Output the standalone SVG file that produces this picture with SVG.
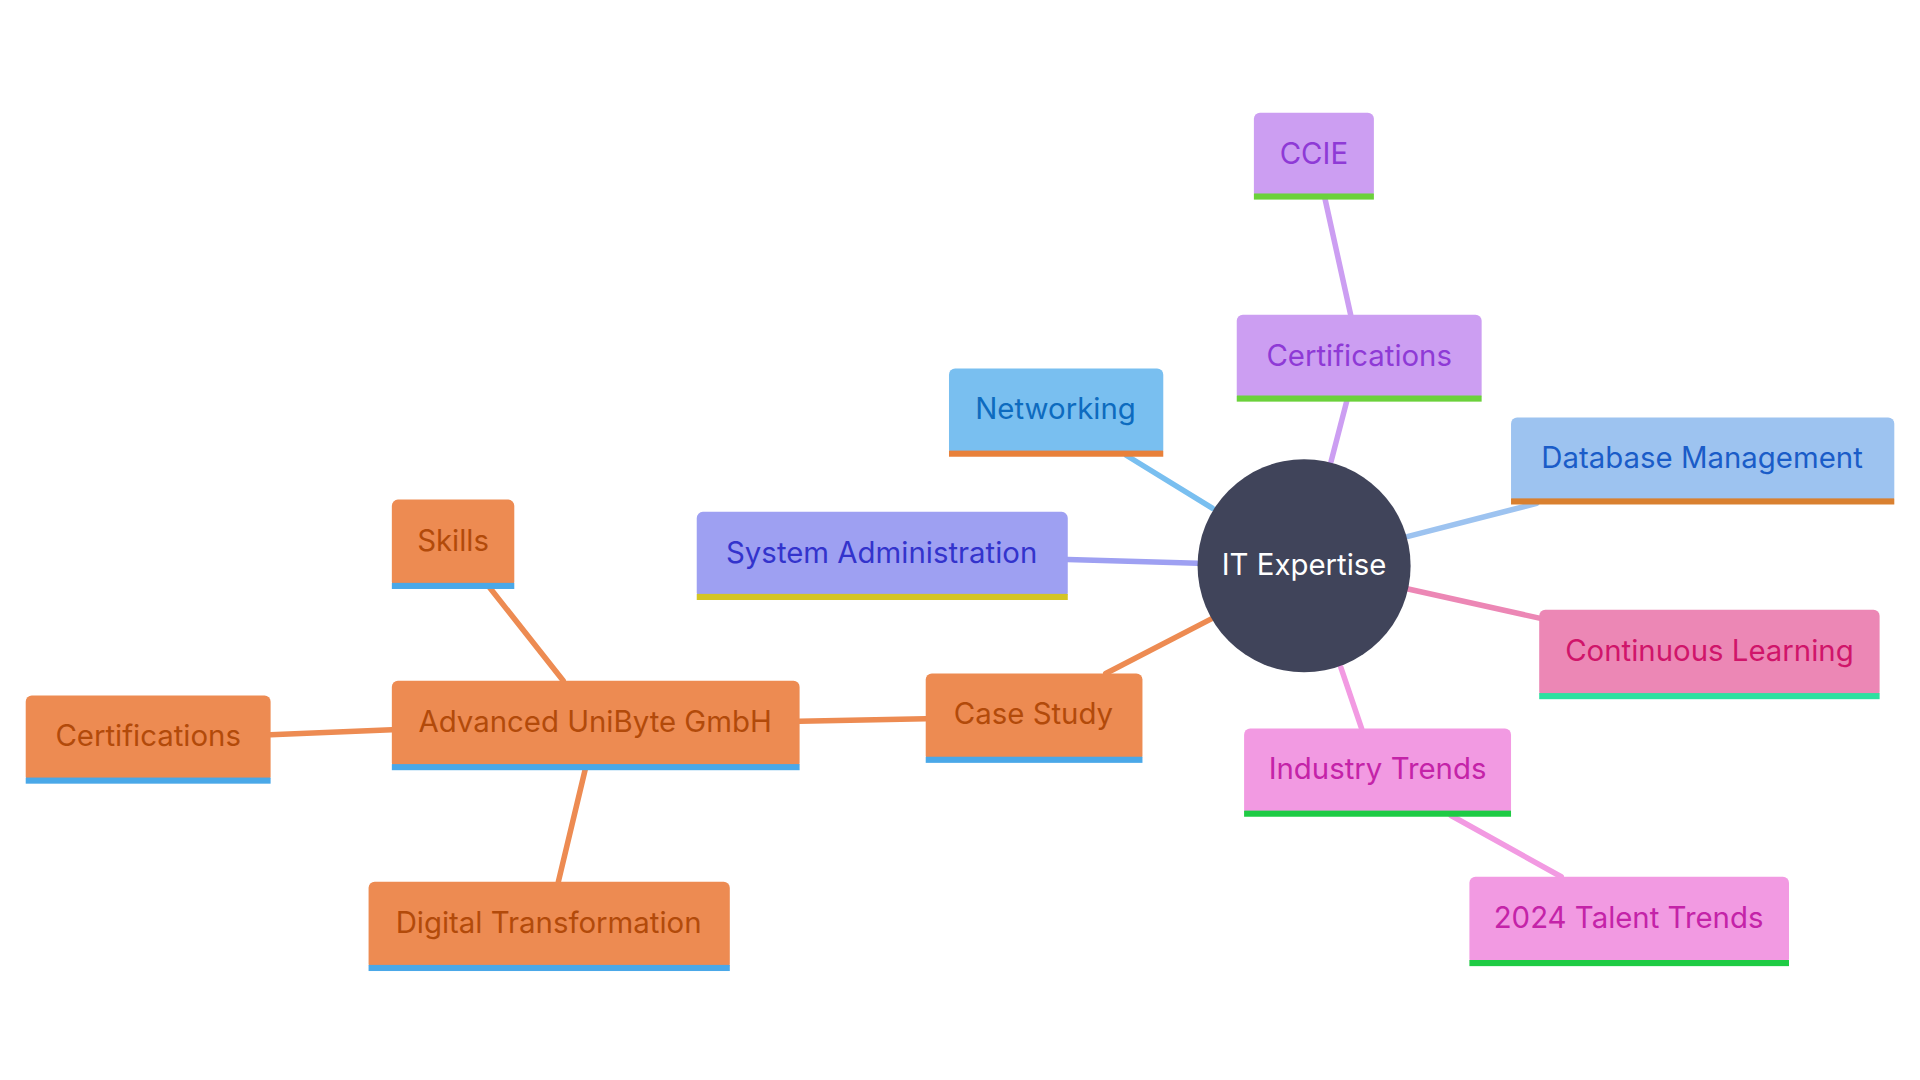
<svg xmlns="http://www.w3.org/2000/svg" width="1920" height="1080" viewBox="0 0 1920 1080">
<style>
text{font-family:Inter,"Noto Sans",sans-serif;font-size:24px;text-anchor:middle;dominant-baseline:central}
.e{fill:none;stroke-width:4.5;stroke-linecap:round}
.o rect.b{fill:#ed8b52}.o text{fill:#b24a0a}.o rect.u{fill:#4aa8e8}
.p rect.b{fill:#cc9ef2}.p text{fill:#8e3ad6}.p rect.u{fill:#6bd13b}
.k rect.b{fill:#f29ae2}.k text{fill:#c423a8}.k rect.u{fill:#1ecb44}
</style>
<rect width="1920" height="1080" fill="#fff"/>
<g transform="scale(1.2245)">
<g id="connectors">
<path class="e" stroke="#cc9ef2" d="M1087,377L1100,327"/>
<path class="e" stroke="#cc9ef2" d="M1082,162L1103,257"/>
<path class="e" stroke="#79bff0" d="M920,372L990,415"/>
<path class="e" stroke="#9ea0f2" d="M872,457L978,460"/>
<path class="e" stroke="#9dc3f0" d="M1150,438L1255,411"/>
<path class="e" stroke="#ec87b5" d="M1150,481L1258,505"/>
<path class="e" stroke="#f29ae2" d="M1095,545L1112,595"/>
<path class="e" stroke="#f29ae2" d="M1185,666L1275,716"/>
<path class="e" stroke="#ed8b52" d="M990,505L903,550"/>
<path class="e" stroke="#ed8b52" d="M756,587L653,589"/>
<path class="e" stroke="#ed8b52" d="M460,556L400,480"/>
<path class="e" stroke="#ed8b52" d="M320,596L221,600"/>
<path class="e" stroke="#ed8b52" d="M478,628L456,720"/>
</g>
<g id="center"><circle cx="1065" cy="462" r="87" fill="#40445a"/><text x="1065" y="461" fill="#fff">IT Expertise</text></g>
<g id="ccie" class="p"><rect class="b" x="1024" y="92" width="98" height="70" rx="5"/><rect class="u" x="1024" y="158" width="98" height="5"/><text x="1073" y="125">CCIE</text></g>
<g id="cert1" class="p"><rect class="b" x="1010" y="257" width="200" height="70" rx="5"/><rect class="u" x="1010" y="323" width="200" height="5"/><text x="1110" y="290">Certifications</text></g>
<g id="net"><rect x="775" y="301" width="175" height="71" rx="5" fill="#79bff0"/><rect x="775" y="368" width="175" height="5" fill="#e8803a"/><text x="862" y="334" fill="#0d6bbf">Networking</text></g>
<g id="db"><rect x="1234" y="341" width="313" height="70" rx="5" fill="#9dc3f0"/><rect x="1234" y="407" width="313" height="5" fill="#d98030"/><text x="1390" y="374" fill="#1a5cc8">Database Management</text></g>
<g id="sys"><rect x="569" y="418" width="303" height="71" rx="5" fill="#9ea0f2"/><rect x="569" y="485" width="303" height="5" fill="#d4c424"/><text x="720" y="451" fill="#3333cc">System Administration</text></g>
<g id="cl"><rect x="1257" y="498" width="278" height="72" rx="5" fill="#ec87b5"/><rect x="1257" y="566" width="278" height="5" fill="#2ee0a0"/><text x="1396" y="531" fill="#d0156a">Continuous Learning</text></g>
<g id="ind" class="k"><rect class="b" x="1016" y="595" width="218" height="71" rx="5"/><rect class="u" x="1016" y="662" width="218" height="5"/><text x="1125" y="628">Industry Trends</text></g>
<g id="talent" class="k"><rect class="b" x="1200" y="716" width="261" height="72" rx="5"/><rect class="u" x="1200" y="784" width="261" height="5"/><text x="1330" y="749">2024 Talent Trends</text></g>
<g id="case" class="o"><rect class="b" x="756" y="550" width="177" height="72" rx="5"/><rect class="u" x="756" y="618" width="177" height="5"/><text x="844" y="583">Case Study</text></g>
<g id="adv" class="o"><rect class="b" x="320" y="556" width="333" height="72" rx="5"/><rect class="u" x="320" y="624" width="333" height="5"/><text x="486" y="589">Advanced UniByte GmbH</text></g>
<g id="skills" class="o"><rect class="b" x="320" y="408" width="100" height="72" rx="5"/><rect class="u" x="320" y="476" width="100" height="5"/><text x="370" y="441">Skills</text></g>
<g id="cert2" class="o"><rect class="b" x="21" y="568" width="200" height="71" rx="5"/><rect class="u" x="21" y="635" width="200" height="5"/><text x="121" y="601">Certifications</text></g>
<g id="dt" class="o"><rect class="b" x="301" y="720" width="295" height="72" rx="5"/><rect class="u" x="301" y="788" width="295" height="5"/><text x="448" y="753">Digital Transformation</text></g>
</g>
</svg>
